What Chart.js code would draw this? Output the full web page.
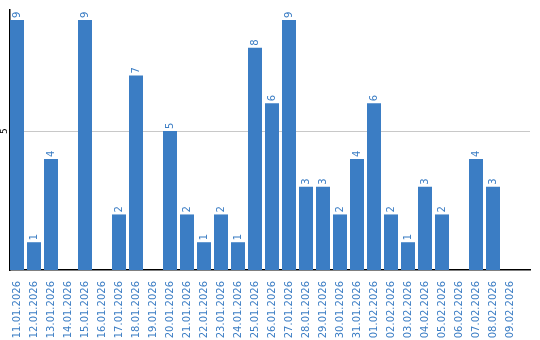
<!DOCTYPE html>
<html>
<head>
<meta charset="utf-8">
<script src="https://cdn.jsdelivr.net/npm/chart.js@4"></script>
<style>
  html, body { margin: 0; padding: 0; background: #fff; }
  #wrap { width: 540px; height: 340px; }
</style>
</head>
<body>
<div id="wrap"><canvas id="dayChart"></canvas></div>
<script>
// Daily counts, 11.01.2026 - 09.02.2026
const days = [
  '11.01.2026', '12.01.2026', '13.01.2026', '14.01.2026', '15.01.2026',
  '16.01.2026', '17.01.2026', '18.01.2026', '19.01.2026', '20.01.2026',
  '21.01.2026', '22.01.2026', '23.01.2026', '24.01.2026', '25.01.2026',
  '26.01.2026', '27.01.2026', '28.01.2026', '29.01.2026', '30.01.2026',
  '31.01.2026', '01.02.2026', '02.02.2026', '03.02.2026', '04.02.2026',
  '05.02.2026', '06.02.2026', '07.02.2026', '08.02.2026', '09.02.2026'
];
const counts = [9, 1, 4, 0, 9, 0, 2, 7, 0, 5, 2, 1, 2, 1, 8, 6, 9, 3, 3, 2, 4, 6, 2, 1, 3, 2, 0, 4, 3, 0];
const yTicks = [5];

const blue = '#3b7dc4';

// draws the rotated value above each bar and the rotated y tick label
const valueLabels = {
    id: 'valueLabels',
    afterDatasetsDraw(chart) {
        const ctx = chart.ctx;
        const meta = chart.getDatasetMeta(0);
        ctx.save();
        ctx.font = '10px "DejaVu Sans"';
        ctx.fillStyle = blue;
        ctx.textAlign = 'left';
        ctx.textBaseline = 'middle';
        meta.data.forEach((bar, i) => {
            if (!counts[i]) return;
            ctx.save();
            ctx.translate(bar.x, bar.y - 2);
            ctx.rotate(-Math.PI / 2);
            ctx.fillText(String(counts[i]), 0, 0);
            ctx.restore();
        });
        const y = chart.scales.y;
        ctx.fillStyle = '#000';
        ctx.font = '9px "DejaVu Sans"';
        ctx.textAlign = 'center';
        yTicks.forEach(v => {
            ctx.save();
            ctx.translate(5, y.getPixelForValue(v));
            ctx.rotate(-Math.PI / 2);
            ctx.fillText(String(v), 0, 0);
            ctx.restore();
        });
        ctx.restore();
    }
};

new Chart(document.getElementById('dayChart'), {
    type: 'bar',
    data: {
        datasets: [{
            // empty days get no bar at all
            data: counts.map((c, i) => ({ x: i, y: c || null })),
            backgroundColor: blue,
            barPercentage: 14 / 17,
            categoryPercentage: 1.0
        }]
    },
    options: {
        responsive: true,
        maintainAspectRatio: false,
        animation: false,
        layout: { padding: { top: 10, right: 10, left: 0, bottom: 0 } },
        plugins: { legend: { display: false }, tooltip: { enabled: false } },
        scales: {
            x: {
                type: 'linear',
                offset: false,
                min: -7 / 17,
                max: -7 / 17 + 520 / 17,
                afterBuildTicks: scale => { scale.ticks = days.map((d, i) => ({ value: i })); },
                afterFit: scale => { scale.height = 70; },
                grid: { display: false, offset: false },
                border: { display: true, color: '#000', width: 1.5 },
                ticks: {
                    color: blue,
                    font: { family: 'DejaVu Sans', size: 10 },
                    minRotation: 90,
                    maxRotation: 90,
                    autoSkip: false,
                    padding: 3,
                    callback: v => days[v]
                }
            },
            y: {
                min: 0,
                max: 9.36,
                afterBuildTicks: scale => { scale.ticks = yTicks.map(v => ({ value: v })); },
                afterFit: scale => { scale.width = 10; },
                ticks: { display: false },
                grid: { color: '#c8c8c8', drawTicks: false },
                border: { display: true, color: '#000', width: 1.5 }
            }
        }
    },
    plugins: [valueLabels]
});
</script>
</body>
</html>
